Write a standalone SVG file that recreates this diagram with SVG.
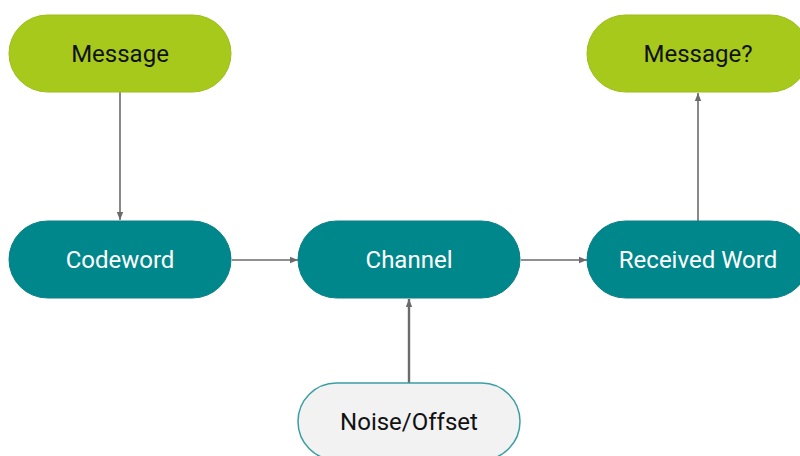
<svg xmlns="http://www.w3.org/2000/svg" width="800" height="456" viewBox="0 0 800 456">
<style>
.green{fill:#a6c91c;stroke:#9dbd1a;stroke-width:1}
.teal{fill:#00878c;stroke:#0a7f84;stroke-width:1}
.light{fill:#f2f2f2;stroke:#3a9ea3;stroke-width:1.5}
text{font-family:Roboto,"Liberation Sans",sans-serif;font-size:24px;text-anchor:middle;dominant-baseline:central}
.dark{fill:#111}
.white{fill:#ffffff}
.conn{stroke:#6b6b6b;stroke-width:1.6;fill:none;marker-end:url(#ah)}
</style>
<defs>
<marker id="ah" viewBox="0 0 10 10" refX="10" refY="5" markerWidth="8" markerHeight="8" orient="auto" markerUnits="userSpaceOnUse">
<path d="M0,1 L10,5 L0,9 Z" fill="#6b6b6b"/>
</marker>
</defs>
<g id="connectors">
<line class="conn" x1="120" y1="92" x2="120" y2="220"/>
<line class="conn" x1="232" y1="260" x2="298" y2="260"/>
<line class="conn" x1="521" y1="260" x2="587" y2="260"/>
<line class="conn" x1="409" y1="383" x2="409" y2="299" style="stroke-width:2.4"/>
<line class="conn" x1="698" y1="221" x2="698" y2="93"/>
</g>
<g id="message">
<rect class="green" x="9" y="15" width="222" height="77" rx="38.5"/>
<text class="dark" x="120" y="54">Message</text>
</g>
<g id="message2">
<rect class="green" x="587" y="15" width="222" height="77" rx="38.5"/>
<text class="dark" x="698" y="54">Message?</text>
</g>
<g id="codeword">
<rect class="teal" x="9" y="221" width="222" height="77" rx="38.5"/>
<text class="white" x="120" y="260">Codeword</text>
</g>
<g id="channel">
<rect class="teal" x="298" y="221" width="222" height="77" rx="38.5"/>
<text class="white" x="409" y="260">Channel</text>
</g>
<g id="received">
<rect class="teal" x="587" y="221" width="222" height="77" rx="38.5"/>
<text class="white" x="698" y="260">Received Word</text>
</g>
<g id="noise">
<rect class="light" x="298" y="383" width="222" height="77" rx="38.5"/>
<text class="dark" x="409" y="422">Noise/Offset</text>
</g>
</svg>
